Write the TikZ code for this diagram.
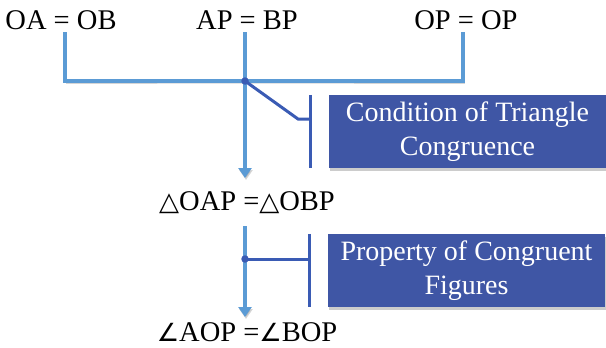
\documentclass[tikz,border=0pt]{standalone}
\usepackage{fontspec}
\setmainfont{Liberation Serif}
\newfontfamily\symfont{DejaVu Sans}
\usepackage{xcolor}
\usepackage{tikz}
\usetikzlibrary{arrows.meta,shadows}

\definecolor{flowblue}{HTML}{5B9BD5}
\definecolor{navyline}{HTML}{3A5BB4}
\definecolor{boxblue}{HTML}{3F56A5}

\newcommand{\trisym}{{\symfont\fontsize{26}{30}\selectfont △}}
\newcommand{\angsym}{{\symfont\fontsize{25}{30}\selectfont ∠}}

\begin{document}
\begin{tikzpicture}[
    x=1pt, y=-1pt,
    eq/.style={anchor=base, inner sep=0pt, font=\fontsize{28.5}{30}\selectfont},
    reason/.style={rectangle, fill=boxblue, text=white, align=center, minimum width=277pt, minimum height=73pt, inner sep=0pt, font=\fontsize{28}{34.5}\selectfont, drop shadow={shadow xshift=1pt, shadow yshift=-2.5pt, opacity=0.4}},
    flow/.style={draw=flowblue, line width=4.5pt, preaction={draw=black!55, opacity=0.3, transform canvas={shift={(1pt,-2pt)}}}},
    arrow/.style={flow, -{Triangle[width=13pt,length=10pt]}},
    brace/.style={draw=navyline, line width=3pt},
    dot/.style={circle, fill=navyline, inner sep=0pt, minimum size=7.5pt}
]
\useasboundingbox (0,0) rectangle (606,348);

% statements
\node[eq] (oa) at (61,29.5) {OA = OB};
\node[eq] (ap) at (247,29.5) {AP = BP};
\node[eq] (op) at (466,29.5) {OP = OP};
\node[eq] (tri) at (247,210) {\trisym OAP =\trisym OBP};
\node[eq] (ang) at (247,341) {\angsym AOP =\angsym BOP};

% reasons
\node[reason] (cond) at (467.5,131.5) {Condition of Triangle\\Congruence};
\node[reason] (prop) at (466.5,270.5) {Property of Congruent\\Figures};

\coordinate (hub) at (245,81);
\coordinate (link) at (245,259);
\coordinate (tip1) at (245,178);
\coordinate (tip2) at (245,317);

\draw[flow] ([xshift=4pt,yshift=-2.5pt]oa.south) |- (hub) -| ([xshift=-3pt,yshift=-2.5pt]op.south);
\draw[arrow] ([yshift=-2.5pt]ap.south -| hub) -- (tip1);
\draw[arrow] (245,226) -- (tip2);

\draw[brace] ([xshift=-18pt]cond.north west) -- ([xshift=-18pt]cond.south west);
\draw[brace] (hub) -- ++(53,38) -- ([xshift=-18pt]cond.west |- 0,119);
\draw[brace] ([xshift=-18pt]prop.north west) -- ([xshift=-18pt]prop.south west);
\draw[brace] (link) -- ([xshift=-18pt]prop.west |- link);

\node[dot] (hubdot) at (hub) {};
\node[dot] (linkdot) at (link) {};
\end{tikzpicture}
\end{document}
